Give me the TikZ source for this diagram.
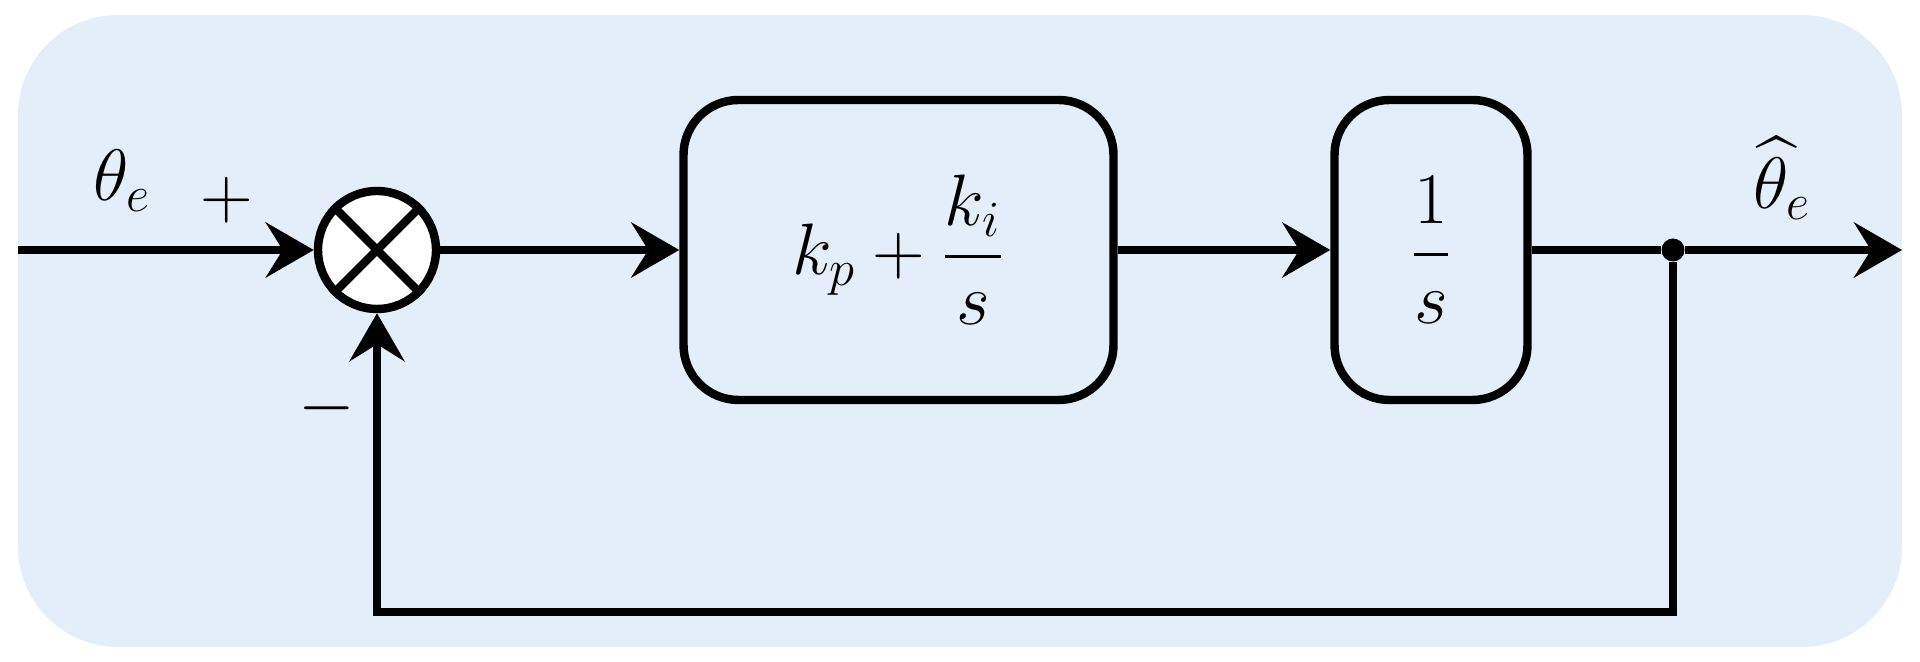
\documentclass[tikz,border=0pt]{standalone}
\usepackage{amsmath}
\usepackage{xcolor}
\definecolor{cBack}{HTML}{E4EEF8}
\definecolor{cLine}{HTML}{000000}
\usepackage{tikz}
\usetikzlibrary{positioning,arrows.meta,calc}
\newcommand{\sigfont}{\fontsize{20}{24}\selectfont}
\newcommand{\blkfont}{\fontsize{22}{26}\selectfont}
\tikzset{
  node-block/.style={draw=cLine,line width=2.4pt,rounded corners=5.5mm,
    minimum height=30mm,align=center,font=\blkfont},
  node-sum/.style={draw=cLine,line width=2.4pt,circle,fill=white,
    minimum size=11.8mm,inner sep=0pt},
  node-dot/.style={circle,fill=cLine,inner sep=0pt,minimum size=2.3mm},
  arrow/.style={-{Stealth[length=4.8mm,width=5.5mm,inset=1.7mm]},line width=2.4pt,draw=cLine},
  wire/.style={line width=2.4pt,draw=cLine},
}

\begin{document}
\begin{tikzpicture}[font=\sigfont]
  \useasboundingbox (0,0) rectangle (19.2,6.62);
  \fill[cBack,rounded corners=10mm] (0.18,0.15) rectangle (19.02,6.47);
  % loop elements
  \coordinate (in) at (0.18,4.12);
  \node[node-sum] (sum) at (3.77,4.12) {};
  \draw[wire] (sum.north west) -- (sum.south east)
              (sum.north east) -- (sum.south west);
  \node[node-block,minimum width=43mm] (pi) at (8.985,4.12) {$k_p+\displaystyle\frac{k_i}{s}$};
  \node[node-block,minimum width=19.3mm] (int) at (14.31,4.12) {$\displaystyle\frac{1}{s}$};
  \node[node-dot] (br) at (16.73,4.12) {};
  \coordinate (out) at (19.02,4.12);
  \coordinate (fb) at (0,0.50);
  % signals
  \draw[arrow] (in) -- (sum.west);
  \draw[arrow] (sum.east) -- (pi.west);
  \draw[arrow] (pi.east) -- (int.west);
  \draw[wire]  (int.east) -- (br);
  \draw[arrow] (br) -- (out);
  \draw[arrow] (br) -- (br |- fb) -| (sum.south);
  % labels
  \node (lin)  at (1.22,4.81) {$\theta_e$};
  \node (lout) at (17.82,4.84) {$\widehat{\theta}_e$};
  \node (lplus)  at (2.27,4.62) {$+$};
  \node (lminus) at (3.27,2.54) {$-$};
\end{tikzpicture}
\end{document}
